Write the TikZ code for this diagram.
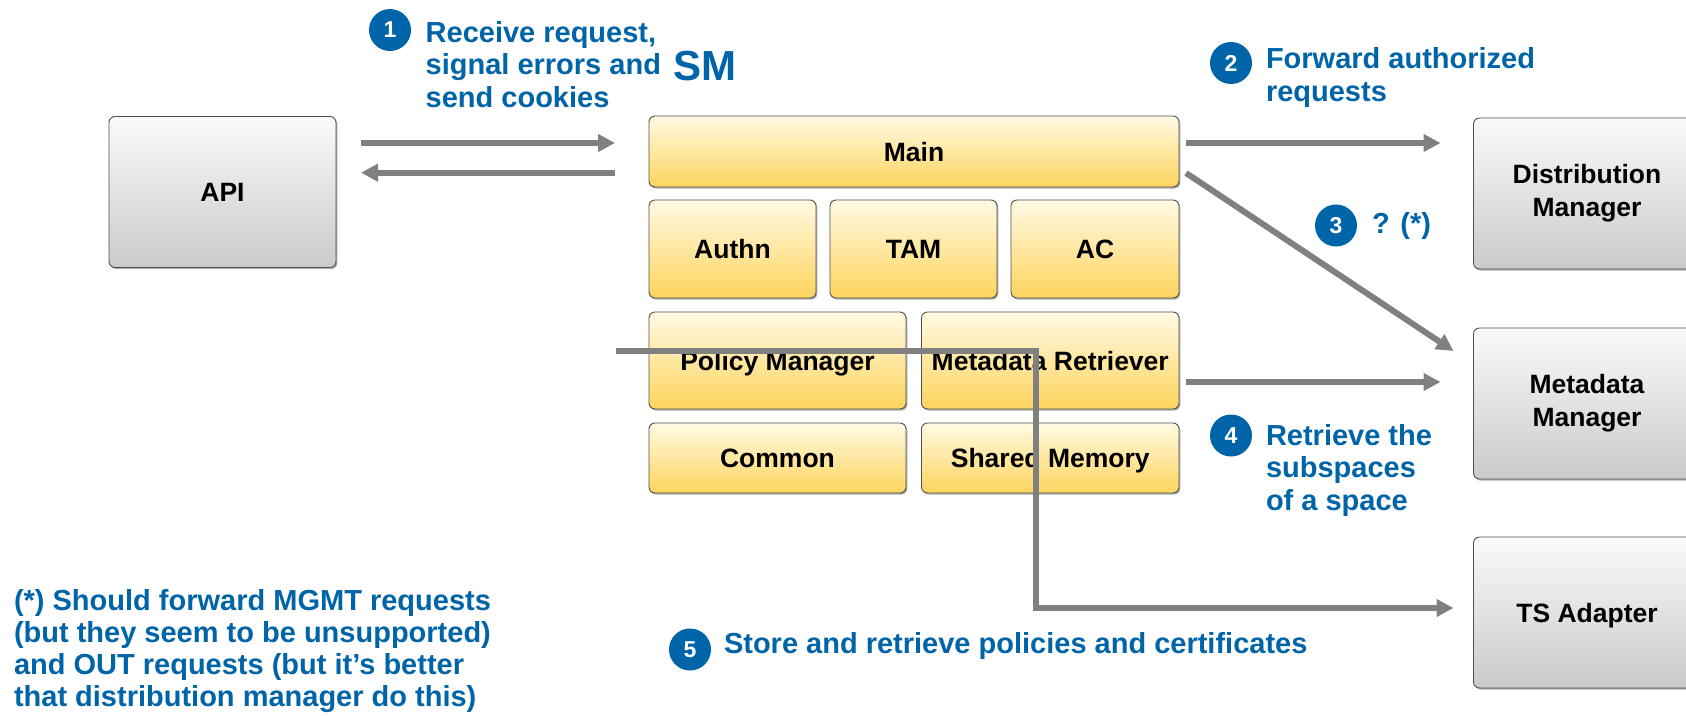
\documentclass[tikz,border=0pt]{standalone}
\usepackage{fontspec}
\setmainfont{Liberation Sans}
\usetikzlibrary{arrows.meta,shadows}

\definecolor{labelblue}{HTML}{0064A8}
\definecolor{arrgray}{HTML}{808080}
\definecolor{boxedge}{HTML}{505050}
\definecolor{graytop}{HTML}{FAFAFA}
\definecolor{graybot}{HTML}{CACACA}
\definecolor{yeltop}{HTML}{FFFAE4}
\definecolor{yelbot}{HTML}{FDD45C}

% fixed-height strut so multi-line labels can be placed by their first baseline
\newcommand\lblstrut{\rule{0pt}{24pt}}

\tikzset{
  every node/.style={inner sep=0pt, outer sep=0pt},
  box/.style={draw=boxedge, line width=0.9pt, rounded corners=6pt, align=center,
    text=black, font=\fontsize{26.5}{33}\selectfont\bfseries,
    drop shadow={shadow xshift=1.3pt, shadow yshift=-1.6pt, opacity=0.45, fill=black!70}},
  oneline/.style={text height=19pt, text depth=0pt},
  smbox/.style={box, oneline, top color=yeltop, bottom color=yelbot},
  extbox/.style={box, top color=graytop, bottom color=graybot,
    minimum width=227pt, minimum height=151pt},
  arr/.style={draw=arrgray, line width=6pt, -{Triangle[length=17pt,width=17pt]}},
  badge/.style={circle, fill=labelblue, minimum size=42pt,
    text=white, font=\fontsize{23}{23}\selectfont\bfseries},
  lbl/.style={text=labelblue, align=left, anchor=north west,
    font=\fontsize{29}{32.5}\selectfont\bfseries},
}

\begin{document}
\begin{tikzpicture}[x=1pt,y=-1pt]
\useasboundingbox (0,0) rectangle (1686,715);
\fill[white] (0,0) rectangle (1686,715);
\clip (0,0) rectangle (1686,715);

% external components
\node[extbox, oneline] (api) at (222.5,192) {API};
\node[extbox] (dm)  at (1587,193.5) {Distribution\\Manager};
\node[extbox] (mm)  at (1587,403.5) {Metadata\\Manager};
\node[extbox, oneline] (ts)  at (1587,612.5) {TS Adapter};

% SM modules
\node[smbox, minimum width=530pt, minimum height=71pt] (main) at (914,151.5) {Main};
\node[smbox, minimum width=167pt, minimum height=98pt] (authn) at (732.5,249) {Authn};
\node[smbox, minimum width=167pt, minimum height=98pt] (tam) at (913.5,249) {TAM};
\node[smbox, minimum width=168pt, minimum height=98pt] (ac) at (1095,249) {AC};
\node[smbox, minimum width=257pt, minimum height=97pt] (pm) at (777.5,360.5) {Policy Manager};
\node[smbox, minimum width=257.5pt, minimum height=97pt] (mr) at (1050.25,360.5) {Metadata Retriever};
\node[smbox, minimum width=257pt, minimum height=70pt] (common) at (777.5,458) {Common};
\node[smbox, minimum width=257.5pt, minimum height=70pt] (shm) at (1050.25,458) {Shared Memory};

% API <-> Main
\coordinate (m1) at ([yshift=8.5pt]main.west);
\coordinate (m2) at ([yshift=-21.2pt]main.west);
\draw[arr, shorten <=25pt, shorten >=34pt] (api.east |- m1) -- (m1);
\draw[arr, shorten <=34pt, shorten >=25pt] (m2) -- (api.east |- m2);

% Main -> Distribution Manager
\coordinate (m3) at ([yshift=8.5pt]main.east);
\draw[arr, shorten <=7pt, shorten >=33pt] (m3) -- (dm.west |- m3);

% Main -> Metadata Manager
\coordinate (m3s) at ([xshift=7pt,yshift=-21.5pt]main.east);
\coordinate (m3e) at ([xshift=-20pt,yshift=52.5pt]mm.west);
\draw[arr] (m3s) -- (m3e);

% Metadata Retriever -> Metadata Manager
\coordinate (m4) at ([yshift=-21.5pt]mr.east);
\draw[arr, shorten <=7pt, shorten >=33pt] (m4) -- (mm.west |- m4);

% Policy Manager -> TS Adapter
\coordinate (p5s) at ([xshift=-33pt,yshift=9.5pt]pm.west);
\coordinate (p5k) at ([xshift=114.5pt]mr.west);
\coordinate (p5e) at ([xshift=-20pt,yshift=4.5pt]ts.west);
\draw[arr] (p5s) -- (p5s -| p5k) -- (p5k |- p5e) -- (p5e);

% step badges and descriptions
\node[badge] (b1) at (390,30) {1};
\node[lbl] (t1) at (425.7,18.3) {\lblstrut Receive request,\\signal errors and\\send cookies};
\node[text=labelblue, anchor=base west, font=\fontsize{42}{42}\selectfont\bfseries] (sm) at (673,80) {SM};

\node[badge] (b2) at (1231,63) {2};
\node[lbl, font=\fontsize{29}{33}\selectfont\bfseries] (t2) at (1266,44) {\lblstrut Forward authorized\\requests};

\node[badge] (b3) at (1336,225.5) {3};
\node[lbl, anchor=base west] (t3) at (1372,233.5) {? (*)};

\node[badge] (b4) at (1231,435.5) {4};
\node[lbl, font=\fontsize{29}{32.5}\selectfont\bfseries] (t4) at (1266,421) {\lblstrut Retrieve the\\subspaces\\of a space};

\node[badge] (b5) at (690,649.5) {5};
\node[lbl, anchor=base west] (t5) at (724,653) {Store and retrieve policies and certificates};

\node[lbl, font=\fontsize{29}{32.3}\selectfont\bfseries] (note) at (14,586) {\lblstrut (*) Should forward MGMT requests\\(but they seem to be unsupported)\\and OUT requests (but it’s better\\that distribution manager do this)};
\end{tikzpicture}
\end{document}
